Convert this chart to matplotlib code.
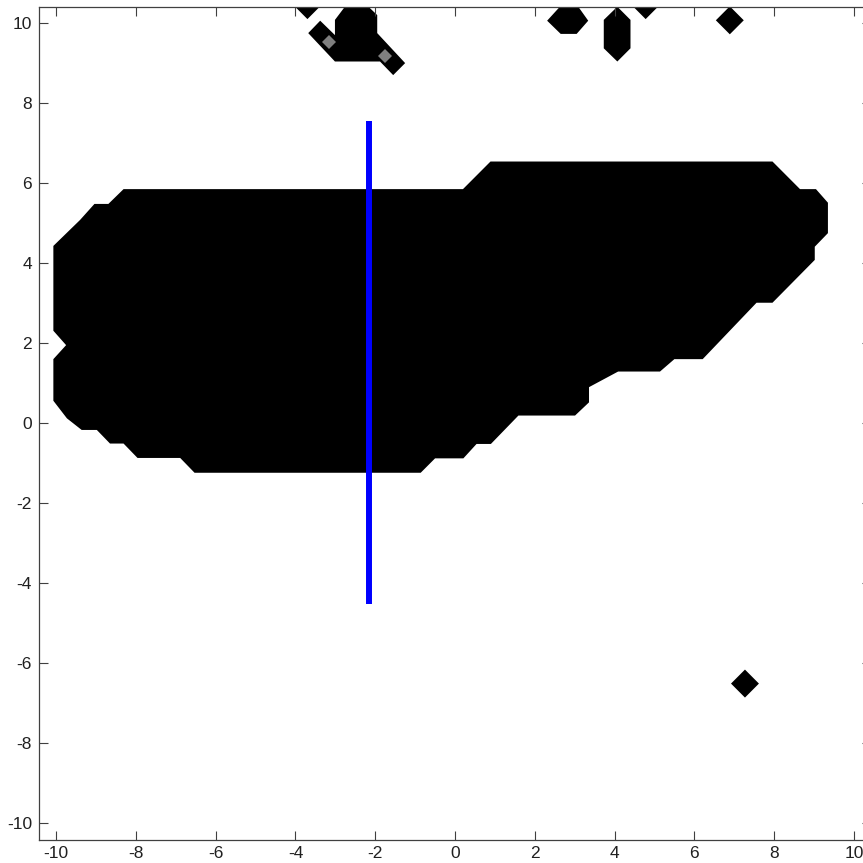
import numpy as np
import matplotlib.pyplot as plt

plt.rcParams['font.family'] = ['Liberation Sans Narrow', 'Liberation Sans', 'DejaVu Sans']
plt.rcParams['axes.unicode_minus'] = False

# main blob outline
main_x = [-8.31, 0.20, 0.89, 7.96, 8.65, 9.05, 9.35, 9.35, 9.02, 9.02, 7.96, 7.56,
          6.21, 5.50, 5.14, 4.09, 3.36, 3.36, 3.01, 1.59, 0.90, 0.54, 0.21, -0.50,
          -0.86, -6.53, -6.89, -7.96, -8.31, -8.65, -8.98, -9.36, -9.73, -10.07,
          -10.07, -9.75, -10.07, -10.07, -9.40, -9.04, -8.69]
main_y = [5.84, 5.84, 6.53, 6.53, 5.84, 5.84, 5.50, 4.74, 4.40, 4.07, 3.00, 3.00,
          1.59, 1.59, 1.28, 1.28, 0.89, 0.51, 0.18, 0.18, -0.53, -0.53, -0.89, -0.89,
          -1.25, -1.25, -0.88, -0.88, -0.52, -0.52, -0.18, -0.18, 0.11, 0.55,
          1.59, 1.94, 2.30, 4.42, 5.07, 5.47, 5.47]

# cluster near the top, left of the line
top_x = [-2.76, -2.17, -1.95, -1.95, -1.25, -1.55, -1.88, -3.01, -3.68, -3.38, -3.01, -3.01]
top_y = [10.40, 10.40, 10.19, 9.74, 8.99, 8.69, 9.03, 9.03, 9.74, 10.05, 9.69, 10.07]

hex1_x = [2.31, 2.63, 3.09, 3.34, 3.05, 2.65]
hex1_y = [10.05, 10.40, 10.40, 10.05, 9.72, 9.72]

hex2_x = [3.73, 4.07, 4.40, 4.40, 4.07, 3.73]
hex2_y = [10.07, 10.40, 10.07, 9.36, 9.03, 9.36]

# small diamonds: centre x, centre y, half size
dia_x = [-3.70, 4.78, 6.89, 7.27]
dia_y = [10.45, 10.47, 10.06, -6.52]
dia_r = [0.36, 0.38, 0.35, 0.35]

# grey points
grey_x = [-3.16, -1.75]
grey_y = [9.52, 9.17]

# blue line
line_x = [-2.15, -2.15]
line_y = [-4.54, 7.55]

def main():
    fig = plt.figure(figsize=(8.63, 8.63), dpi=100)
    ax = fig.add_axes([39/863, 23/863, 832/863, 833.3/863])

    ax.fill(main_x, main_y, color='black', lw=0)
    ax.fill(top_x, top_y, color='black', lw=0)
    ax.fill(hex1_x, hex1_y, color='black', lw=0)
    ax.fill(hex2_x, hex2_y, color='black', lw=0)
    for cx, cy, r in zip(dia_x, dia_y, dia_r):
        ax.fill([cx - r, cx, cx + r, cx], [cy, cy + r, cy, cy - r], color='black', lw=0)

    ax.plot(grey_x, grey_y, 'D', color='#7f7f7f', markersize=7, markeredgewidth=0)
    ax.plot(line_x, line_y, color='#0000ff', lw=4.3, solid_capstyle='butt')

    ax.set_xlim(-10.43, 10.43)
    ax.set_ylim(-10.43, 10.40)
    ax.set_xticks(np.arange(-10, 11, 2))
    ax.set_yticks(np.arange(-10, 11, 2))
    ax.tick_params(direction='in', top=True, right=True, length=6.3, width=0.8,
                   color='#404040', labelsize=12.5, labelcolor='#202020')
    ax.tick_params(axis='y', pad=5)
    ax.tick_params(axis='x', pad=4)
    for s in ax.spines.values():
        s.set_color('#404040')
        s.set_linewidth(0.9)

    fig.savefig('out.png', dpi=100)

if __name__ == '__main__':
    main()
